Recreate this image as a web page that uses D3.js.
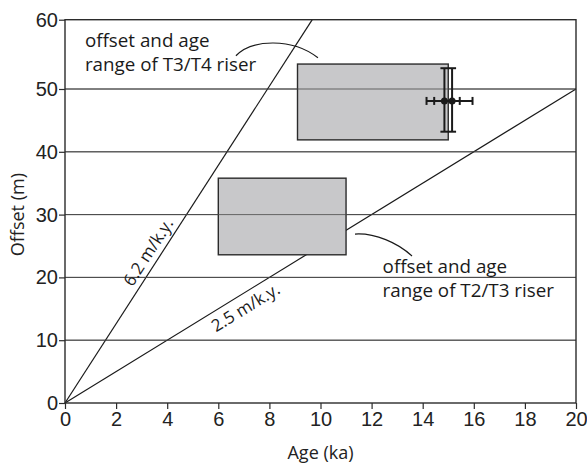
<!DOCTYPE html>
<html>
<head>
<meta charset="utf-8">
<script src="https://cdn.jsdelivr.net/npm/d3@7"></script>
<style>
body { margin: 0; background: #fff; }
</style>
</head>
<body>
<svg id="chart" width="587" height="464"></svg>
<script>
// chart values
var ageTicks = [0, 2, 4, 6, 8, 10, 12, 14, 16, 18, 20];
var offsetTicks = [0, 10, 20, 30, 40, 50, 60];
var gridOffsets = [10, 20, 30, 40, 50];

var slopeNames = ["6.2 m/k.y.", "2.5 m/k.y."];
var slopeRates = [6.2, 2.5];
var slopeLabelAge = [3.65, 6.8];

var boxNames = ["T3/T4", "T2/T3"];
var boxAgeMin = [9.1, 6.0];
var boxAgeMax = [15.0, 11.0];
var boxOffsetMin = [41.9, 23.6];
var boxOffsetMax = [53.6, 35.8];

var pointAge = [14.85, 15.15];
var pointAgeMin = [14.15, 14.45];
var pointAgeMax = [15.45, 15.95];
var pointOffset = [48.1, 48.1];
var pointOffsetMin = [43.2, 43.2];
var pointOffsetMax = [53.0, 53.0];

// leader curves (age, offset): start, control 1, control 2, end
var leaderT3T4 = [[6.69, 54.8], [7.3, 57.2], [8.9, 57.4], [9.9, 54.5]];
var leaderT2T3 = [[11.35, 26.9], [12.13, 27.1], [13.03, 25.5], [13.58, 23.4]];

var svg = d3.select("#chart");

var x = d3.scaleLinear().domain([0, 20]).range([65, 576]);
// the original figure has a slightly taller top band
var y = d3.scaleLinear().domain([0, 50, 60]).range([403, 89, 19.7]);

var sansFont = "'Open Sans', 'Noto Sans', sans-serif";
var tickFont = "'Liberation Sans', Arial, sans-serif";

function gridLines(opacity) {
    svg.append("g").selectAll("line")
        .data(gridOffsets)
        .enter()
        .append("line")
        .attr("x1", x(0))
        .attr("x2", x(20))
        .attr("y1", function (d) { return y(d); })
        .attr("y2", function (d) { return y(d); })
        .attr("stroke", "#4a4a4a")
        .attr("stroke-opacity", opacity)
        .attr("stroke-width", 1);
}
gridLines(1);

// slope lines from origin
svg.append("g").selectAll("line")
    .data(slopeRates)
    .enter()
    .append("line")
    .attr("x1", x(0))
    .attr("y1", y(0))
    .attr("x2", function (r) { return x(Math.min(20, 60 / r)); })
    .attr("y2", function (r) { return y(Math.min(60, 20 * r)); })
    .attr("stroke", "#1a1a1a")
    .attr("stroke-width", 1.2);

// boxes
svg.append("g").selectAll("rect")
    .data(boxNames)
    .enter()
    .append("rect")
    .attr("x", function (d, i) { return x(boxAgeMin[i]); })
    .attr("y", function (d, i) { return y(boxOffsetMax[i]); })
    .attr("width", function (d, i) { return x(boxAgeMax[i]) - x(boxAgeMin[i]); })
    .attr("height", function (d, i) { return y(boxOffsetMin[i]) - y(boxOffsetMax[i]); })
    .attr("fill", "#c8c8ca")
    .attr("stroke", "#2b2b2b")
    .attr("stroke-width", 1.4);

// grid line shows through the boxes in the original
gridLines(0.8);

// slope labels
svg.append("g").selectAll("text")
    .data(slopeNames)
    .enter()
    .append("text")
    .attr("transform", function (d, i) {
        var r = slopeRates[i];
        var a = slopeLabelAge[i];
        var ang = Math.atan2(y(Math.min(60, 20 * r)) - y(0), x(Math.min(20, 60 / r)) - x(0));
        var px = x(a);
        var py = y(0) + (px - x(0)) * Math.tan(ang);
        return "translate(" + px + "," + py + ") rotate(" + (ang * 180 / Math.PI) + ")";
    })
    .attr("dy", function (d, i) { return i == 0 ? -6 : 19; })
    .attr("text-anchor", "middle")
    .attr("font-family", sansFont)
    .attr("font-size", 17)
    .attr("fill", "#1a1a1a")
    .text(function (d) { return d; });

// error bars
var eb = svg.append("g").attr("stroke", "#1a1a1a").attr("stroke-width", 2);
pointAge.forEach(function (a, i) {
    var cx = x(a), cy = y(pointOffset[i]);
    var top = y(pointOffsetMax[i]), bot = y(pointOffsetMin[i]);
    var lft = x(pointAgeMin[i]), rgt = x(pointAgeMax[i]);
    eb.append("line").attr("x1", cx).attr("x2", cx).attr("y1", top).attr("y2", bot);
    eb.append("line").attr("x1", cx - 4).attr("x2", cx + 4).attr("y1", top).attr("y2", top);
    eb.append("line").attr("x1", cx - 4).attr("x2", cx + 4).attr("y1", bot).attr("y2", bot);
    eb.append("line").attr("x1", lft).attr("x2", rgt).attr("y1", cy).attr("y2", cy);
    eb.append("line").attr("x1", lft).attr("x2", lft).attr("y1", cy - 4).attr("y2", cy + 4);
    eb.append("line").attr("x1", rgt).attr("x2", rgt).attr("y1", cy - 4).attr("y2", cy + 4);
});
svg.append("g").selectAll("circle")
    .data(pointAge)
    .enter()
    .append("circle")
    .attr("cx", function (d) { return x(d); })
    .attr("cy", function (d, i) { return y(pointOffset[i]); })
    .attr("r", 3.5)
    .attr("fill", "#1a1a1a");

// frame
svg.append("rect")
    .attr("x", x(0))
    .attr("y", y(60))
    .attr("width", x(20) - x(0))
    .attr("height", y(0) - y(60))
    .attr("fill", "none")
    .attr("stroke", "#2b2b2b")
    .attr("stroke-width", 1.4);

// axes
var xAxis = d3.axisBottom(x).tickValues(ageTicks).tickSize(6).tickSizeOuter(0).tickPadding(3);
var gx = svg.append("g").attr("transform", "translate(0," + y(0) + ")").call(xAxis);
gx.select(".domain").remove();
gx.selectAll("line").attr("stroke", "#2b2b2b").attr("stroke-width", 1.2);
gx.selectAll("text").attr("font-family", tickFont).attr("font-size", 20).attr("fill", "#222");

var yAxis = d3.axisLeft(y).tickValues(offsetTicks).tickSize(6).tickSizeOuter(0).tickPadding(1);
var gy = svg.append("g").attr("transform", "translate(" + x(0) + ",0)").call(yAxis);
gy.select(".domain").remove();
gy.selectAll("line").attr("stroke", "#2b2b2b").attr("stroke-width", 1.2);
gy.selectAll("text").attr("font-family", tickFont).attr("font-size", 20).attr("fill", "#222");

// axis titles
svg.append("text")
    .attr("x", (x(0) + x(20)) / 2)
    .attr("y", 459)
    .attr("text-anchor", "middle")
    .attr("font-family", sansFont)
    .attr("font-size", 18)
    .attr("fill", "#222")
    .text("Age (ka)");

svg.append("text")
    .attr("transform", "translate(24," + y(30) + ") rotate(-90)")
    .attr("text-anchor", "middle")
    .attr("font-family", sansFont)
    .attr("font-size", 18)
    .attr("fill", "#222")
    .text("Offset (m)");

// annotations
function leader(pts) {
    var p = d3.path();
    p.moveTo(x(pts[0][0]), y(pts[0][1]));
    p.bezierCurveTo(x(pts[1][0]), y(pts[1][1]), x(pts[2][0]), y(pts[2][1]), x(pts[3][0]), y(pts[3][1]));
    return p.toString();
}
svg.append("path").attr("d", leader(leaderT3T4)).attr("fill", "none").attr("stroke", "#1a1a1a").attr("stroke-width", 1.2);
svg.append("path").attr("d", leader(leaderT2T3)).attr("fill", "none").attr("stroke", "#1a1a1a").attr("stroke-width", 1.2);

function noteText(ax, oy, lines) {
    var t = svg.append("text")
        .attr("font-family", sansFont)
        .attr("font-size", 18.8)
        .attr("fill", "#1a1a1a");
    lines.forEach(function (s, i) {
        t.append("tspan").attr("x", x(ax)).attr("y", y(oy) + i * 24).text(s);
    });
}
noteText(0.78, 56.1, ["offset and age", "range of " + boxNames[0] + " riser"]);
noteText(12.43, 20.7, ["offset and age", "range of " + boxNames[1] + " riser"]);
</script>
</body>
</html>
